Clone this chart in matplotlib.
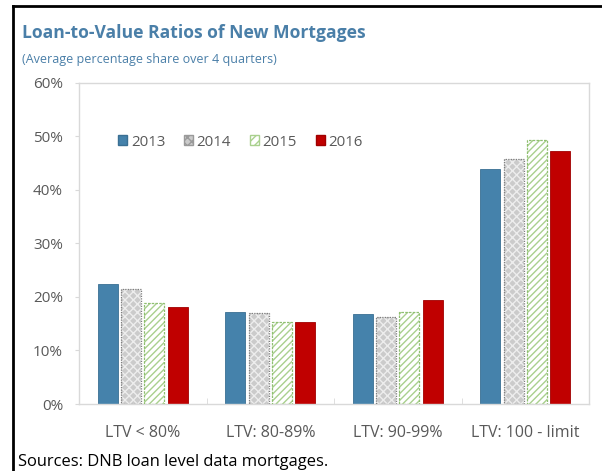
import matplotlib
matplotlib.use("Agg")
import matplotlib.pyplot as plt
import numpy as np
from matplotlib.patches import Patch
from matplotlib.lines import Line2D

categories = ["LTV < 80%", "LTV: 80-89%", "LTV: 90-99%", "LTV: 100 - limit"]
years = ["2013", "2014", "2015", "2016"]
v2013 = [22.5, 17.2, 16.9, 43.8]
v2014 = [21.5, 17.0, 16.2, 45.7]
v2015 = [18.9, 15.3, 17.2, 49.3]
v2016 = [18.2, 15.4, 19.5, 47.3]
yticks = [0, 10, 20, 30, 40, 50, 60]
ytick_labels = ["0%", "10%", "20%", "30%", "40%", "50%", "60%"]

FONT = "Open Sans"
plt.rcParams['font.family'] = [FONT, 'DejaVu Sans']
plt.rcParams['hatch.linewidth'] = 1.0

fig = plt.figure(figsize=(6.02, 4.71), dpi=100)
ax = fig.add_axes([79/602, 1-404/471, (589-79)/602, (404-82.7)/471])

x = np.arange(len(categories))
width = 0.156
pitch = 0.182
offsets = [-1.5*pitch, -0.5*pitch, 0.5*pitch, 1.5*pitch]

# 2013 solid blue
ax.bar(x + offsets[0], v2013, width, color="#4582ab", edgecolor="#3a6f93", linewidth=0.6, zorder=2)
# 2014 gray patterned
ax.bar(x + offsets[1], v2014, width, color="#cbcbcb", edgecolor="#ededed", hatch="xxxx", linewidth=0, zorder=2)
ax.bar(x + offsets[1], v2014, width, fill=False, edgecolor="#7f7f7f", linestyle=(0, (1, 1)), linewidth=0.9, zorder=3)
# 2015 green hatch
ax.bar(x + offsets[2], v2015, width, color="#ffffff", edgecolor="#a9d08e", hatch="/////", linewidth=0, zorder=2)
ax.bar(x + offsets[2], v2015, width, fill=False, edgecolor="#8fbf70", linestyle=(0, (2, 1)), linewidth=0.9, zorder=3)
# 2016 red
ax.bar(x + offsets[3], v2016, width, color="#c00000", edgecolor="#a00000", linewidth=0.6, zorder=2)

ax.set_xlim(-0.5, len(categories) - 0.5)
ax.set_ylim(0, 60)
ax.set_yticks(yticks)
ax.set_yticklabels(ytick_labels)
ax.set_xticks(x)
ax.set_xticklabels(categories)
ax.set_xticks(np.arange(0.5, len(categories) - 0.5, 1.0), minor=True)
ax.tick_params(axis='x', which='major', length=0, pad=15, labelsize=11.5, labelcolor="#595959")
ax.tick_params(axis='x', which='minor', length=4, direction='in', color="#d9d9d9")
ax.tick_params(axis='y', length=3, color="#d9d9d9", pad=8.5, labelsize=11, labelcolor="#595959")
for sp in ax.spines.values():
    sp.set_color("#d9d9d9")
    sp.set_linewidth(1.0)

handles = [
    Patch(facecolor="#4582ab", edgecolor="#3a6f93"),
    Patch(facecolor="#cbcbcb", edgecolor="#9a9a9a", hatch="xxxx"),
    Patch(facecolor="#ffffff", edgecolor="#a9d08e", hatch="////"),
    Patch(facecolor="#c00000", edgecolor="#a00000"),
]
leg = ax.legend(handles, years, ncol=4, loc="center left", bbox_to_anchor=(33/510, 1-(142-82.7)/321.3),
                frameon=False, handlelength=0.6, handleheight=0.6, handletextpad=0.25,
                columnspacing=1.25, fontsize=10.8, borderaxespad=0)
for t in leg.get_texts():
    t.set_color("#595959")

fig.text(22/602, 1-33/471, "Loan-to-Value Ratios of New Mortgages", fontsize=12.6, fontweight="bold",
         color="#4a7fa8", va="center", ha="left")
fig.text(22/602, 1-60/471, "(Average percentage share over 4 quarters)", fontsize=9.0,
         color="#4a7fa8", va="center", ha="left")
fig.text(18/602, 1-462/471, "Sources: DNB loan level data mortgages.", fontsize=11.9,
         color="#000000", va="center", ha="left")

# black frame lines (left and top)
fig.add_artist(Line2D([13/602, 13/602], [0, 1-6/471], color="black", linewidth=2, transform=fig.transFigure))
fig.add_artist(Line2D([13/602, 1], [1-6/471, 1-6/471], color="black", linewidth=2, transform=fig.transFigure))

fig.savefig("out.png", dpi=100)
